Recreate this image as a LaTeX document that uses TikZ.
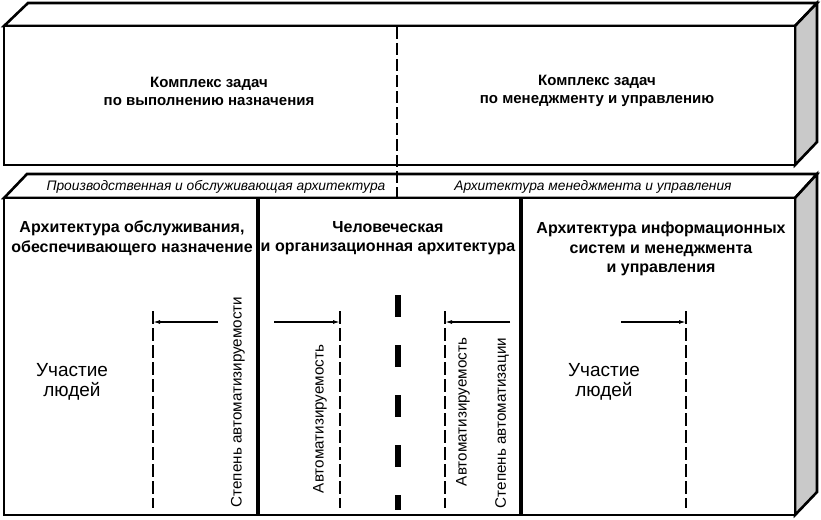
\documentclass[tikz,border=0pt]{standalone}
\usepackage{fontspec}
\setmainfont{Liberation Sans}
\usetikzlibrary{arrows.meta}
\definecolor{sideGray}{HTML}{C9C9C9}

\begin{document}
\begin{tikzpicture}[x=1pt,y=-1pt,>={Latex[length=7pt,width=4pt]},
  edge/.style={line width=2.6pt,line join=miter},
  task/.style={font=\fontsize{15}{18}\selectfont\bfseries,align=center,inner sep=0pt},
  title/.style={font=\fontsize{16}{19.5}\selectfont\bfseries,align=center,inner sep=0pt},
  strip/.style={font=\fontsize{13.8}{15}\selectfont\itshape,inner sep=0pt},
  level/.style={line width=2.4pt,dash pattern=on 13pt off 4pt},
  side/.style={rotate=90,font=\fontsize{15.2}{17}\selectfont,inner sep=0pt},
  people/.style={font=\fontsize{19}{20.5}\selectfont,align=center,inner sep=0pt}]
\useasboundingbox (0,0) rectangle (821,519);

% upper block
\filldraw[edge,fill=white] (4,26) -- (28,3) -- (817,3) -- (795,26) -- cycle;
\filldraw[edge,fill=sideGray] (795,26) -- (817,3) -- (817,142) -- (795,165) -- cycle;
\filldraw[edge,fill=white] (4,26) rectangle (795,165);

% lower block
\filldraw[edge,fill=white] (4,198) -- (27,174) -- (817,174) -- (795,198) -- cycle;
\filldraw[edge,fill=sideGray] (795,198) -- (817,174) -- (817,492) -- (795,515) -- cycle;
\filldraw[edge,fill=white] (4,198) rectangle (795,515);

% split of the task sets
\draw[line width=1.4pt,dash pattern=on 12pt off 4pt] (397,27) -- (397,198);
\draw[line width=4pt] (258,198) -- (258,515);
\draw[line width=4pt] (521,198) -- (521,515);

\node[task] (taskL) at (209,91) {Комплекс задач\\по выполнению назначения};
\node[task] (taskR) at (597,91) {Комплекс задач\\по менеджменту и управлению};

\node[strip] (archL) at (216,187) {Производственная и обслуживающая архитектура};
\node[strip] (archR) at (593,187) {Архитектура менеджмента и управления};

\node[title] (colA) at (132,238) {Архитектура обслуживания,\\обеспечивающего назначение};
\node[title] (colB) at (388,238) {Человеческая\\и организационная архитектура};
\node[title,anchor=north] (colC) at (661,222) {Архитектура информационных\\систем и менеджмента\\и управления};

% automation levels
\coordinate (lvA) at (153,311);  \coordinate (lvA2) at (153,508);
\coordinate (lvB) at (340,311);  \coordinate (lvB2) at (340,508);
\coordinate (lvC) at (445,311);  \coordinate (lvC2) at (445,508);
\coordinate (lvD) at (686,311);  \coordinate (lvD2) at (686,508);
\draw[level] (lvA) -- (lvA2);
\draw[level] (lvB) -- (lvB2);
\draw[level] (lvC) -- (lvC2);
\draw[level] (lvD) -- (lvD2);
\draw[line width=6pt,dash pattern=on 22pt off 28pt] (398,295) -- (398,510);

\coordinate (arA) at (218,322);
\coordinate (arB) at (274,322);
\coordinate (arC) at (510,322);
\coordinate (arD) at (621,322);
\draw[->,line width=1.3pt] (arA) -- (lvA |- arA);
\draw[->,line width=1.3pt] (arB) -- (lvB |- arB);
\draw[->,line width=1.3pt] (arC) -- (lvC |- arC);
\draw[->,line width=1.3pt] (arD) -- (lvD |- arD);

\node[side] (degA) at (238,402) {Степень автоматизируемости};
\node[side] (autoB) at (320,419) {Автоматизируемость};
\node[side] (autoC) at (463,412) {Автоматизируемость};
\node[side] (degC) at (502,423) {Степень автоматизации};

\node[people] (menL) at (72,382) {Участие\\людей};
\node[people] (menR) at (604,382) {Участие\\людей};
\end{tikzpicture}
\end{document}
